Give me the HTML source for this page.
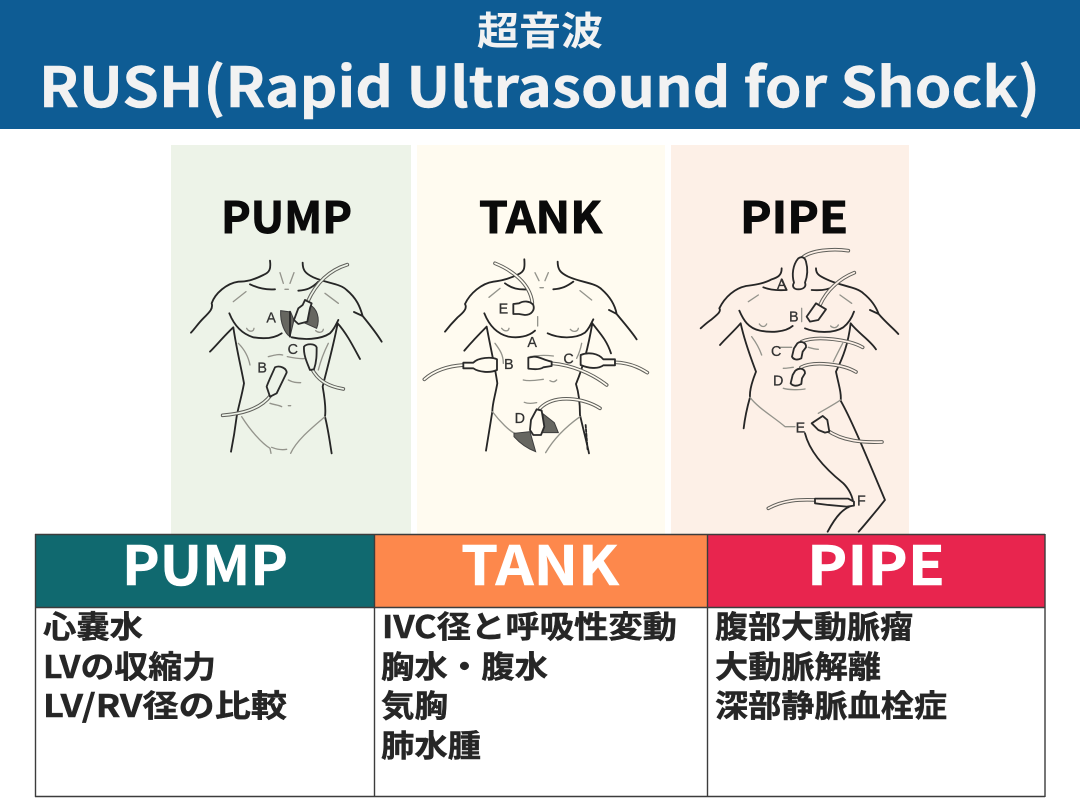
<!DOCTYPE html>
<html lang="ja"><head><meta charset="utf-8"><title>RUSH</title>
<style>
html,body{margin:0;padding:0;background:#fff}
svg{display:block}
.n{font-family:"Noto Sans CJK JP",sans-serif;font-weight:700}
.b{fill:none;stroke:#262626;stroke-width:5.5;stroke-linecap:round;stroke-linejoin:round}
.l{fill:none;stroke:#94948c;stroke-width:4;stroke-linecap:round;stroke-linejoin:round}
.c{fill:none;stroke:#5f5f5a;stroke-width:11;stroke-linecap:round}
.c2{fill:none;stroke-width:5;stroke-linecap:round}
.p{stroke:#2b2b2b;stroke-width:5.5;stroke-linejoin:round}
.t{font-family:"Liberation Sans",sans-serif;font-size:43px;fill:#333;stroke:#333;stroke-width:.8}
.s{fill:#666661;stroke:#3c3c3c;stroke-width:3}
</style></head><body>
<svg width="1080" height="810" viewBox="0 0 1080 810" xmlns="http://www.w3.org/2000/svg">
<defs><filter id="soft" x="-5%" y="-5%" width="110%" height="110%"><feGaussianBlur stdDeviation="0.9"/></filter></defs>
<rect width="1080" height="810" fill="#fff"/>
<rect width="1080" height="129" fill="#0e5c94"/>
<text class="n" x="540" y="45" text-anchor="middle" font-size="39" fill="#f2f2f2" textLength="126" lengthAdjust="spacingAndGlyphs">超音波</text>
<text class="n" x="39" y="107" font-size="55" fill="#f2f2f2" stroke="#f2f2f2" stroke-width=".4" textLength="1001" lengthAdjust="spacingAndGlyphs">RUSH(Rapid Ultrasound for Shock)</text>

<rect x="171" y="145" width="240" height="390" fill="#edf3e8"/>
<rect x="417" y="145" width="248" height="390" fill="#fffbf0"/>
<rect x="671" y="145" width="238" height="390" fill="#fdf0e7"/>
<g class="n" font-size="43" fill="#0a0a0a" stroke="#0a0a0a" stroke-width=".9">
<text x="221" y="233" textLength="131" lengthAdjust="spacingAndGlyphs">PUMP</text>
<text x="479" y="233" textLength="123" lengthAdjust="spacingAndGlyphs">TANK</text>
<text x="740" y="233" textLength="108" lengthAdjust="spacingAndGlyphs">PIPE</text>
</g>

<!-- PUMP -->
<g transform="translate(170 240) scale(.3333)" filter="url(#soft)">
<path class="b" d="M300,62C303,85 300,97 280,105C250,120 230,125 205,125C170,130 135,160 125,190C130,205 120,215 100,235C85,250 75,265 63,278"/>
<path class="b" d="M398,68C398,90 405,100 430,112C470,130 510,130 530,150C560,175 570,200 578,228C600,255 620,280 635,305M578,228L552,216"/>
<path class="b" d="M178,220C190,250 210,280 250,292C280,297 310,297 335,280M365,292C400,300 450,300 480,280C490,270 495,260 505,240"/>
<path class="b" d="M190,262C165,285 140,315 120,335M190,262C200,330 215,390 222,430C215,470 205,500 200,530C195,570 188,610 183,635"/>
<path class="b" d="M503,250C530,280 550,320 570,357M503,250C490,320 470,390 458,440C465,480 468,510 465,530C475,570 480,610 485,640"/>
<path class="b" d="M240,133C265,145 290,150 315,148M385,152C410,150 425,145 445,125"/>
<path class="l" d="M215,530C240,570 275,610 300,625L303,640M465,530C430,560 380,600 362,640M305,622C325,630 340,630 350,628M330,98L340,130M372,98L360,130M345,148H355M190,185L228,155M465,160L505,190M230,265C235,275 250,278 252,265M437,272C445,280 458,278 460,268M205,310C225,330 235,350 240,375M475,310C460,340 450,370 445,390M295,350C315,345 325,342 338,345M352,350C375,355 395,358 410,355M355,420C370,428 380,428 392,428M300,490C315,495 325,495 335,500M355,497H362"/>
<path class="s" d="M332,212L362,216L372,240L360,290C345,280 330,250 332,212ZM420,195C440,205 452,235 440,265L395,245Z"/>
<path class="b" d="M360,215V290"/>
<path class="c" d="M532,74C480,90 440,125 413,185"/>
<path class="c2" stroke="#edf3e8" d="M532,74C480,90 440,125 413,185"/>
<path class="p" fill="#edf3e8" d="M405,180L425,190L420,205L412,245L385,252L372,240L385,205L398,195Z"/>
<path class="c" d="M520,447C480,440 445,425 425,385"/>
<path class="c2" stroke="#edf3e8" d="M520,447C480,440 445,425 425,385"/>
<path class="p" fill="#edf3e8" d="M402,320C410,310 435,310 440,322C440,345 440,365 432,388L420,390C412,370 400,345 402,320Z"/>
<path class="c" d="M158,526C210,522 270,510 303,465"/>
<path class="c2" stroke="#edf3e8" d="M158,526C210,522 270,510 303,465"/>
<path class="p" fill="#edf3e8" d="M315,382C330,375 350,385 350,398L320,460L300,470L290,440C295,425 305,405 315,382Z"/>
<text class="t" x="289" y="247">A</text><text class="t" x="262" y="397">B</text><text class="t" x="353" y="342">C</text>
</g>

<!-- TANK -->
<g transform="translate(415 240) scale(.3333)" filter="url(#soft)">
<path class="b" d="M328,58C330,85 328,95 310,103C280,118 255,123 235,125C200,130 165,160 150,192C158,205 145,218 128,232C112,248 100,262 90,275"/>
<path class="b" d="M428,65C428,88 435,98 460,110C500,128 540,128 560,148C585,170 600,195 605,222C628,250 650,275 665,298M605,222L582,210"/>
<path class="b" d="M208,220C220,250 240,280 280,290C310,295 340,290 360,272M398,280C430,295 480,298 510,278C520,268 525,258 535,238"/>
<path class="b" d="M215,260C190,285 165,312 148,332M215,260C228,330 240,380 247,430C240,470 232,490 232,515C225,560 218,600 213,632"/>
<path class="b" d="M532,250C555,280 575,300 588,340M532,250C520,320 505,380 483,432C495,470 495,505 495,525C505,570 515,605 522,640"/>
<path class="b" d="M270,130C290,145 310,150 340,148M415,148C440,146 455,140 475,125"/>
<path class="l" d="M232,515C255,545 285,575 300,580M495,530C460,555 420,590 392,638M360,98L372,122M400,98L390,122M375,143H385M222,172L255,145M495,152L530,180M260,265C268,275 280,275 282,265M466,268C475,278 488,275 490,265M240,310C255,330 265,345 265,370M500,310C495,335 490,345 485,355M345,350C370,345 390,345 415,348M325,420C345,425 370,420 385,418M405,422C415,428 420,425 425,420M328,487C340,492 355,490 365,488M368,230V258"/>
<path class="s" d="M297,580L345,575L362,635C335,625 315,610 297,590ZM385,522L418,548L430,578L382,578Z"/>
<path class="c" d="M240,70C290,90 345,130 352,188"/>
<path class="c2" stroke="#fffbf0" d="M240,70C290,90 345,130 352,188"/>
<path class="p" fill="#fffbf0" d="M295,192L312,190C325,182 345,182 355,195C360,210 350,225 330,225L312,222L295,222Z"/>
<path class="c" d="M28,418C60,390 100,378 145,375"/>
<path class="c2" stroke="#fffbf0" d="M28,418C60,390 100,378 145,375"/>
<path class="p" fill="#fffbf0" d="M145,368H175C190,352 230,350 246,358V390C225,400 190,396 175,385H145Z"/>
<path class="c" d="M410,370C470,375 530,400 575,435"/>
<path class="c2" stroke="#fffbf0" d="M410,370C470,375 530,400 575,435"/>
<path class="p" fill="#fffbf0" d="M340,353L358,350C375,350 385,360 410,365V378L385,382C375,390 355,388 340,386Z"/>
<path class="c" d="M600,367C635,368 670,380 697,398"/>
<path class="c2" stroke="#fffbf0" d="M600,367C635,368 670,380 697,398"/>
<path class="p" fill="#fffbf0" d="M497,345C520,335 550,340 565,358H600V376H565C550,388 520,385 497,375Z"/>
<path class="c" d="M555,505C510,475 420,460 375,505"/>
<path class="c2" stroke="#fffbf0" d="M555,505C510,475 420,460 375,505"/>
<path class="p" fill="#fffbf0" d="M365,508L380,512L388,560L378,585H355L345,570L348,540Z"/>
<path class="b" d="M512,555L518,632" stroke-dasharray="8 5"/>
<text class="t" x="251" y="221">E</text><text class="t" x="337" y="321">A</text><text class="t" x="267" y="387">B</text><text class="t" x="445" y="371">C</text><text class="t" x="299" y="549">D</text>
</g>

<!-- PIPE -->
<g transform="translate(670 240) scale(.3333)" filter="url(#soft)">
<path class="b" d="M335,85C335,105 325,112 305,118C280,132 250,135 228,138C195,145 165,170 148,205C155,215 140,225 125,238C110,248 100,258 92,265"/>
<path class="b" d="M438,85C438,102 448,108 470,118C510,138 560,140 580,160C605,180 618,200 626,222C650,250 670,265 685,282M626,222L600,210"/>
<path class="b" d="M208,212C220,240 235,265 270,272C300,278 345,278 368,258M405,265C435,278 490,282 520,262C535,250 545,235 552,215"/>
<path class="b" d="M212,250C190,275 168,295 150,315M212,250C225,310 245,360 258,395C248,420 238,450 240,472C232,500 225,530 221,565"/>
<path class="b" d="M542,250C565,280 600,300 618,328M542,250C535,310 520,350 498,395C505,430 515,460 512,482C545,540 590,650 645,780L625,805C600,835 580,860 566,875"/>
<path class="b" d="M405,580C420,640 470,690 520,730C535,745 550,770 550,795C520,805 500,825 473,875"/>
<path class="b" d="M280,142C300,150 320,152 350,150L335,118M425,150C450,152 475,150 495,138"/>
<path class="l" d="M240,472C265,505 310,530 345,560H375M512,480C490,495 470,505 445,520M235,185L265,165M510,165L545,190M268,252C275,262 285,262 290,252M482,258C490,266 500,264 505,255M245,290C260,310 268,325 275,345M518,310C510,325 500,345 490,365M330,322H365M415,322C425,325 435,328 445,328M340,385C350,385 360,383 370,382M340,445C355,450 390,450 405,447M395,205V245"/>
<path class="c" d="M535,32C490,25 420,30 395,55"/>
<path class="c2" stroke="#fdf0e7" d="M535,32C490,25 420,30 395,55"/>
<path class="p" fill="#fdf0e7" d="M385,55C395,48 405,52 408,65C415,90 412,110 405,128C410,140 400,148 385,148C372,148 365,140 372,128C365,105 368,75 385,55Z"/>
<path class="c" d="M553,98C510,115 470,150 450,195"/>
<path class="c2" stroke="#fdf0e7" d="M553,98C510,115 470,150 450,195"/>
<path class="p" fill="#fdf0e7" d="M438,190L468,208L445,240L420,245L410,230Z"/>
<path class="c" d="M578,322C540,300 440,285 395,305"/>
<path class="c2" stroke="#fdf0e7" d="M578,322C540,300 440,285 395,305"/>
<path class="p" fill="#fdf0e7" d="M382,310C395,300 410,310 408,322L398,335L394,355C380,362 370,358 366,350L372,325Z"/>
<path class="c" d="M558,396C520,372 430,362 393,382"/>
<path class="c2" stroke="#fdf0e7" d="M558,396C520,372 430,362 393,382"/>
<path class="p" fill="#fdf0e7" d="M376,392C388,382 405,385 405,400L396,415L394,432C380,440 368,438 362,430L368,405Z"/>
<path class="c" d="M636,606C580,608 520,605 470,570"/>
<path class="c2" stroke="#fdf0e7" d="M636,606C580,608 520,605 470,570"/>
<path class="p" fill="#fdf0e7" d="M425,550L458,528L472,540L478,575L465,578L445,570Z"/>
<path class="c" d="M295,805C340,780 390,778 435,780"/>
<path class="c2" stroke="#fdf0e7" d="M295,805C340,780 390,778 435,780"/>
<path class="p" fill="#fdf0e7" d="M435,776H535L552,785V797L530,800L475,795L435,790Z"/>
<text class="t" x="321" y="147">A</text><text class="t" x="357" y="244">B</text><text class="t" x="303" y="348">C</text><text class="t" x="309" y="436">D</text><text class="t" x="377" y="577">E</text><text class="t" x="561" y="796">F</text>
</g>

<!-- table -->
<rect x="35" y="534" width="339" height="73" fill="#10696f"/>
<rect x="374" y="534" width="333" height="73" fill="#fd884c"/>
<rect x="707" y="534" width="338" height="73" fill="#e8254e"/>
<g stroke="#3c3c3c" stroke-width="1.4" fill="none">
<path d="M35,534.5H1045M35,607.5H1045M35,796.5H1045"/>
<path d="M35.5,534V797M374.5,534V797M707.5,534V797M1045,534V797"/>
</g>
<g class="n" font-size="54" fill="#fff" stroke="#fff" stroke-width=".5">
<text x="122" y="585" textLength="166" lengthAdjust="spacingAndGlyphs">PUMP</text>
<text x="461" y="585" textLength="158" lengthAdjust="spacingAndGlyphs">TANK</text>
<text x="807" y="585" textLength="138" lengthAdjust="spacingAndGlyphs">PIPE</text>
</g>
<g class="n" font-size="31" fill="#262626" stroke="#262626" stroke-width=".45">
<text x="43" y="638" textLength="100" lengthAdjust="spacingAndGlyphs">心嚢水</text>
<text x="43" y="678" textLength="173" lengthAdjust="spacingAndGlyphs">LVの収縮力</text>
<text x="43" y="717" textLength="244" lengthAdjust="spacingAndGlyphs">LV/RV径の比較</text>
<text x="382" y="638" textLength="295" lengthAdjust="spacingAndGlyphs">IVC径と呼吸性変動</text>
<text x="381" y="678" textLength="167" lengthAdjust="spacingAndGlyphs">胸水・腹水</text>
<text x="381" y="717" textLength="67" lengthAdjust="spacingAndGlyphs">気胸</text>
<text x="381" y="757" textLength="100" lengthAdjust="spacingAndGlyphs">肺水腫</text>
<text x="715" y="638" textLength="198" lengthAdjust="spacingAndGlyphs">腹部大動脈瘤</text>
<text x="715" y="678" textLength="166" lengthAdjust="spacingAndGlyphs">大動脈解離</text>
<text x="715" y="717" textLength="232" lengthAdjust="spacingAndGlyphs">深部静脈血栓症</text>
</g>
</svg>
</body></html>
